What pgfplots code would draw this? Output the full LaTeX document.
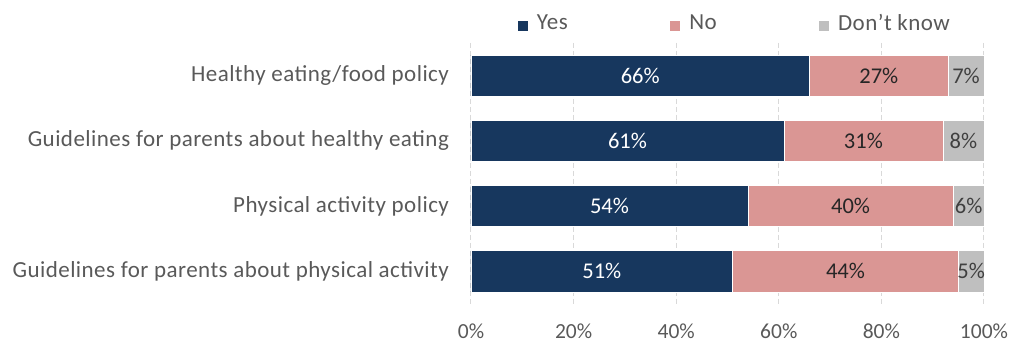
\documentclass[border=0pt]{standalone}
\usepackage{fontspec}
\setmainfont{Carlito}
\usepackage{pgfplots}
\usepackage{pgfplotstable}
\pgfplotsset{compat=1.18}
\definecolor{yescol}{HTML}{17375E}
\definecolor{nocol}{HTML}{DA9694}
\definecolor{dkcol}{HTML}{BFBFBF}
\definecolor{txt}{HTML}{595959}
\definecolor{gridc}{HTML}{D9D9D9}
\pgfplotstableread{
idx yes no dk
0 66 27 7
1 61 31 8
2 54 40 6
3 51 44 5
}\data
\newcommand{\lblfont}{\fontsize{11.5}{13}\selectfont\addfontfeature{LetterSpace=2}}
\newcommand{\numfont}{\fontsize{10.75}{12}\selectfont}
\newcommand{\valfont}{\fontsize{11.25}{12}\selectfont}
\begin{document}
\begin{tikzpicture}
\begin{axis}[name=ax,
  xbar stacked, bar width=0.63,
  width=256.5pt, height=130.5pt, scale only axis,
  xmin=0, xmax=100, ymin=-0.5, ymax=3.5, y dir=reverse,
  xtick={0,20,...,100},
  xticklabel={\pgfmathprintnumber{\tick}\%},
  ytick={0,1,2,3},
  yticklabels={Healthy eating/food policy, Guidelines for parents about healthy eating, Physical activity policy, Guidelines for parents about physical activity},
  axis line style={draw=none}, major tick length=0pt,
  xmajorgrids,
  major grid style={gridc, dash pattern=on 2.5pt off 1.5pt, line width=0.5pt},
  extra x ticks={0}, extra x tick labels={},
  extra x tick style={grid style={solid, gridc, line width=0.6pt}},
  xticklabel style={text=txt, font=\numfont, /pgf/number format/assume math mode=true, yshift=-6.5pt},
  yticklabel style={text=txt, font=\lblfont, xshift=-7.5pt},
  point meta=explicit,
  nodes near coords={\pgfmathprintnumber[assume math mode=true]{\pgfplotspointmeta}\%},
  every node near coord/.append style={anchor=center, font=\valfont},
  legend columns=3,
  legend style={at={(0.516,1)}, anchor=center, yshift=9.5pt, draw=none, fill=none, font=\lblfont, text=txt,
    /tikz/every even column/.append style={column sep=49pt}},
  legend image code/.code={\fill[#1, draw=none] (0pt,-3.5pt) rectangle (5pt,1.5pt); \path (7.5pt,0pt);},
]
\addplot[fill=yescol, draw=white, line width=0.4pt,
  every node near coord/.append style={text=white}] table[x=yes, y=idx, meta=yes]{\data};
\addplot[fill=nocol, draw=white, line width=0.4pt,
  every node near coord/.append style={text=black!85}] table[x=no, y=idx, meta=no]{\data};
\addplot[fill=dkcol, draw=white, line width=0.4pt,
  every node near coord/.append style={text=black!75}] table[x=dk, y=idx, meta=dk]{\data};
\legend{Yes, No\hspace{4.5pt}, Don't know}
\end{axis}
\pgfresetboundingbox
\path[use as bounding box] (ax.south west) ++(-235.5pt,-21.5pt) rectangle ++(507pt,173.5pt);
\end{tikzpicture}
\end{document}
